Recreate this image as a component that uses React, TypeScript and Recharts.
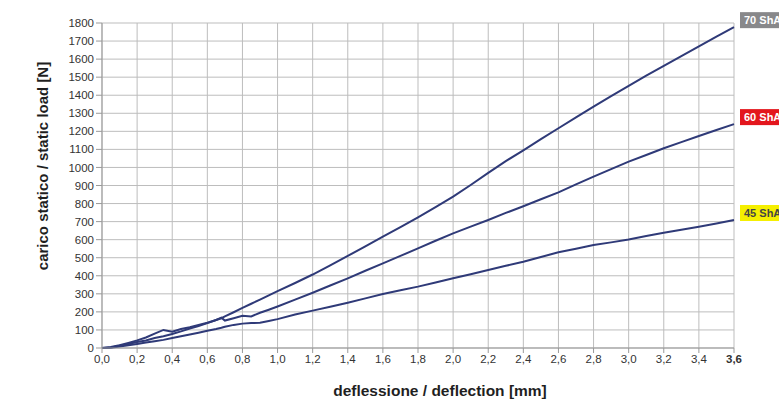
import { LineChart, Line, XAxis, YAxis, CartesianGrid } from 'recharts';

// deflessione [mm]
const deflection = [
	0, 0.05, 0.1, 0.15, 0.2, 0.25, 0.3, 0.35, 0.4, 0.45, 0.5, 0.55, 0.6, 0.65, 0.68, 0.7, 0.75, 0.8,
	0.85, 0.9, 0.95, 1.0, 1.1, 1.2, 1.3, 1.4, 1.5, 1.6, 1.7, 1.8, 1.9, 2.0, 2.1, 2.2, 2.3, 2.4, 2.5,
	2.6, 2.7, 2.8, 2.9, 3.0, 3.1, 3.2, 3.3, 3.4, 3.5, 3.6,
];

// carico statico [N]
const load70 = [
	0, 3, 12, 22, 33, 42, 55, 65, 78, 92, 108, 122, 138, 155, 165, 175, 198, 222, 245, 268, 292, 315,
	360, 407, 458, 510, 563, 617, 670, 724, 780, 838, 903, 970, 1035, 1095, 1157, 1217, 1277, 1337,
	1395, 1452, 1508, 1563, 1617, 1670, 1724, 1777,
];
const load60 = [
	0, 5, 15, 28, 42, 58, 80, 100, 90, 105, 115, 128, 140, 155, 168, 152, 165, 178, 175, 195, 212, 230,
	268, 306, 346, 386, 428, 469, 510, 552, 594, 635, 672, 709, 748, 785, 824, 862, 906, 949, 991, 1032,
	1069, 1106, 1140, 1174, 1207, 1240,
];
const load45 = [
	0, 2, 8, 15, 22, 30, 38, 45, 55, 65, 75, 85, 95, 105, 112, 118, 128, 135, 138, 140, 150, 160, 185,
	207, 228, 251, 275, 299, 320, 340, 363, 386, 409, 432, 455, 478, 504, 530, 550, 570, 585, 601, 620,
	638, 655, 672, 690, 709,
];

const xTicks = [0, 0.2, 0.4, 0.6, 0.8, 1.0, 1.2, 1.4, 1.6, 1.8, 2.0, 2.2, 2.4, 2.6, 2.8, 3.0, 3.2, 3.4, 3.6];
const yTicks = [
	0, 100, 200, 300, 400, 500, 600, 700, 800, 900, 1000, 1100, 1200, 1300, 1400, 1500, 1600, 1700, 1800,
];

const series = [
	{ key: 's70', name: '70 ShA', badge: '#88888a', text: '#ffffff' },
	{ key: 's60', name: '60 ShA', badge: '#e3161d', text: '#ffffff' },
	{ key: 's45', name: '45 ShA', badge: '#f5ef00', text: '#454545' },
];

const chartData = deflection.map((x, i) => ({
	x,
	s70: load70[i],
	s60: load60[i],
	s45: load45[i],
}));

const FONT = '"Liberation Sans", Arial, sans-serif';
const LINE_COLOR = '#2f3a78';
const lastIndex = deflection.length - 1;

const fmt = (v: number) => v.toFixed(1).replace('.', ',');

const XTick = ({ x, y, payload, index }: any) => (
	<text
		x={x}
		y={y}
		dy="0.71em"
		textAnchor="middle"
		fill="#333"
		fontSize={11.5}
		fontFamily={FONT}
		fontWeight={index === xTicks.length - 1 ? 'bold' : 'normal'}
	>
		{fmt(payload.value)}
	</text>
);

// etichetta colorata alla fine di ogni curva (tagliata dal bordo come nell'originale)
const makeBadge = (name: string, fill: string, color: string) => (props: any) => {
	const { x, y, index } = props;
	if (index !== lastIndex) return null;
	return (
		<g>
			<rect x={x + 6} y={y - 15} width={60} height={16} fill={fill} />
			<text x={x + 10} y={y - 3} fill={color} fontSize={11} fontWeight="bold" fontFamily={FONT}>
				{name}
			</text>
		</g>
	);
};

export default function App() {
	return (
		<div style={{ position: 'absolute', left: 0, top: 0, width: 779, height: 399, background: '#fff' }}>
			<LineChart
				width={779}
				height={399}
				data={chartData}
				margin={{ top: 23, right: 45, bottom: 21, left: 62 }}
				style={{ fontFamily: FONT }}
			>
				<CartesianGrid stroke="#bdbdbd" />
				<XAxis
					type="number"
					dataKey="x"
					domain={[0, 3.6]}
					ticks={xTicks}
					interval={0}
					height={30}
					stroke="#999"
					tickSize={5}
					tick={<XTick />}
					label={{
						content: () => (
							<text
								x={440}
								y={396}
								textAnchor="middle"
								fontSize={15.5}
								fontWeight="bold"
								fill="#1f1f1f"
								fontFamily={FONT}
							>
								deflessione / deflection [mm]
							</text>
						),
					}}
				/>
				<YAxis
					type="number"
					domain={[0, 1800]}
					ticks={yTicks}
					interval={0}
					width={40}
					stroke="#999"
					tickSize={6}
					tick={{ fill: '#333', fontSize: 11.5, fontFamily: FONT }}
					label={{
						content: () => (
							<text
								transform="translate(48,166) rotate(-90)"
								textAnchor="middle"
								fontSize={15}
								fontWeight="bold"
								fill="#1f1f1f"
								fontFamily={FONT}
							>
								carico statico / static load [N]
							</text>
						),
					}}
				/>
				{series.map((s) => (
					<Line
						key={s.key}
						type="linear"
						dataKey={s.key}
						name={s.name}
						stroke={LINE_COLOR}
						strokeWidth={2}
						dot={false}
						isAnimationActive={false}
						label={makeBadge(s.name, s.badge, s.text)}
					/>
				))}
			</LineChart>
		</div>
	);
}
